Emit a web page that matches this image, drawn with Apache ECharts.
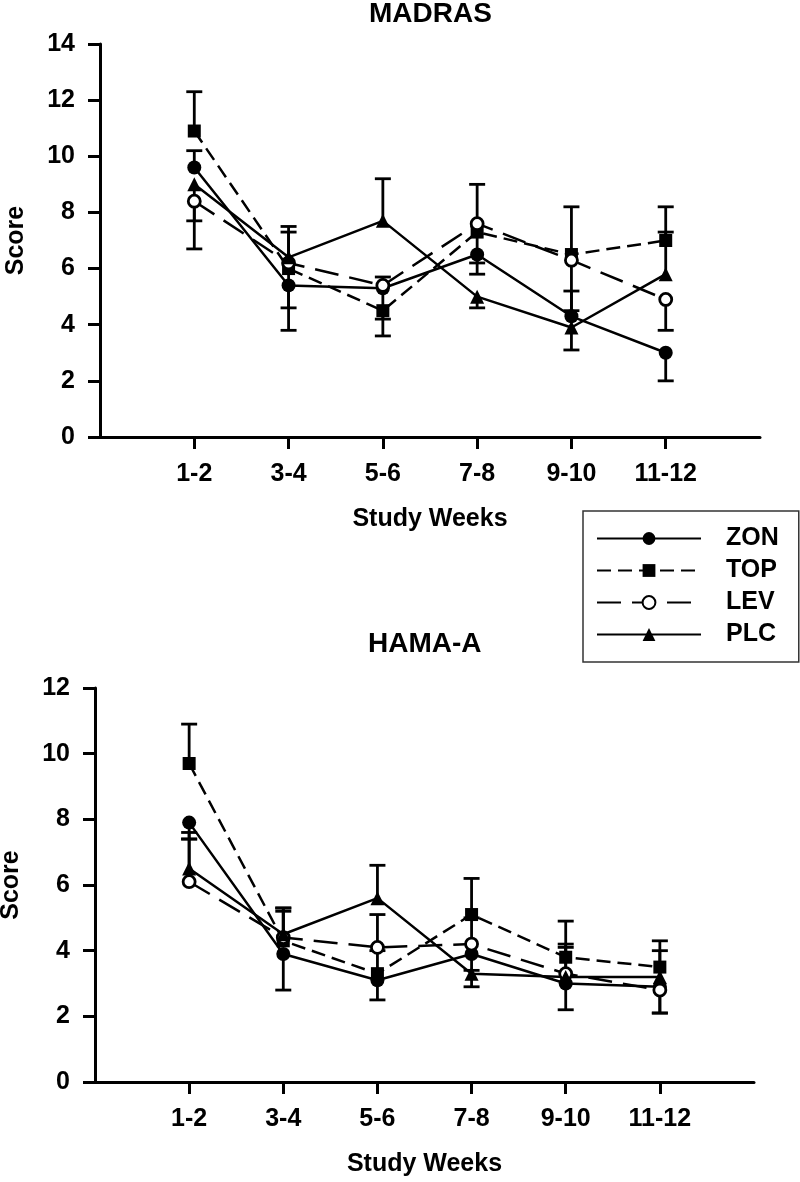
<!DOCTYPE html>
<html>
<head>
<meta charset="utf-8">
<script src="https://cdn.jsdelivr.net/npm/echarts@6/dist/echarts.min.js"></script>
<style>
html, body { margin: 0; padding: 0; background: #fff; }
#chart { width: 800px; height: 1182px; }
</style>
</head>
<body>
<div id="chart"></div>
<script>
'use strict';

var weeks = ['1-2', '3-4', '5-6', '7-8', '9-10', '11-12'];
var weekPos = [1, 2, 3, 4, 5, 6];

// MADRAS: group means and the end of each (one-sided) error bar
var madrasZon = [9.6, 5.4, 5.3, 6.5, 4.3, 3.0];
var madrasZonErr = [10.2, 3.8, 4.2, 5.8, 5.2, 2.0];
var madrasTop = [10.9, 6.0, 4.5, 7.3, 6.5, 7.0];
var madrasTopErr = [12.3, 4.6, 3.6, 6.2, 8.2, 8.2];
var madrasLev = [8.4, 6.2, 5.4, 7.6, 6.3, 4.9];
var madrasLevErr = [6.7, 7.3, 5.7, 9.0, 4.5, 3.8];
var madrasPlc = [9.0, 6.4, 7.7, 5.0, 3.9, 5.8];
var madrasPlcErr = [7.7, 7.5, 9.2, 4.6, 3.1, 7.3];

// HAMA-A
var hamaZon = [7.9, 3.9, 3.1, 3.9, 3.0, 2.9];
var hamaZonErr = [7.4, 2.8, 2.5, 3.4, 2.2, 2.1];
var hamaTop = [9.7, 4.3, 3.3, 5.1, 3.8, 3.5];
var hamaTopErr = [10.9, 5.3, 4.0, 6.2, 4.9, 4.3];
var hamaLev = [6.1, 4.4, 4.1, 4.2, 3.3, 2.8];
var hamaLevErr = [7.4, 5.3, 5.1, 5.0, 4.2, 2.1];
var hamaPlc = [6.5, 4.5, 5.6, 3.3, 3.2, 3.2];
var hamaPlcErr = [7.6, 5.2, 6.6, 2.9, 4.1, 4.0];

var FONT = '"Liberation Sans", Arial, sans-serif';

var groups = [
    {name: 'ZON', symbol: 'circle', size: 14, dash: 'solid', fill: '#000'},
    {name: 'TOP', symbol: 'rect', size: 13, dash: [14, 7], fill: '#000'},
    {name: 'LEV', symbol: 'circle', size: 12, dash: [24, 11], fill: '#fff'},
    {name: 'PLC', symbol: 'triangle', size: 14, dash: 'solid', fill: '#000'}
];

function pairs(values) {
    return values.map(function (v, i) { return [weekPos[i], v]; });
}

function errRows(means, ends) {
    return means.map(function (v, i) { return [weekPos[i], v, ends[i]]; });
}

function renderErr(params, api) {
    var x = api.value(0);
    var p1 = api.coord([x, api.value(1)]);
    var p2 = api.coord([x, api.value(2)]);
    var half = 8;
    var st = {stroke: '#000', lineWidth: 2.8};
    return {
        type: 'group',
        children: [
            {type: 'line', shape: {x1: p1[0], y1: p1[1], x2: p2[0], y2: p2[1]}, style: st},
            {type: 'line', shape: {x1: p2[0] - half, y1: p2[1], x2: p2[0] + half, y2: p2[1]}, style: st}
        ]
    };
}

function xAxisFor(idx) {
    return {
        type: 'value', gridIndex: idx, min: 0, max: 7, interval: 1,
        name: 'Study Weeks', nameLocation: 'middle', nameGap: 70,
        nameTextStyle: {fontSize: 25, fontWeight: 'bold', color: '#000', fontFamily: FONT},
        axisLine: {lineStyle: {color: '#000', width: 3}},
        axisTick: {customValues: weekPos, length: 12, lineStyle: {color: '#000', width: 3}},
        axisLabel: {
            customValues: weekPos, margin: 25,
            fontSize: 25, fontWeight: 'bold', color: '#000', fontFamily: FONT,
            formatter: function (v) { return weeks[v - 1]; }
        },
        splitLine: {show: false}
    };
}

function yAxisFor(idx, max) {
    return {
        type: 'value', gridIndex: idx, min: 0, max: max, interval: 2,
        name: 'Score', nameLocation: 'middle', nameGap: 71,
        nameTextStyle: {fontSize: 25, fontWeight: 'bold', color: '#000', fontFamily: FONT},
        axisLine: {show: true, lineStyle: {color: '#000', width: 3}},
        axisTick: {show: true, length: 12, lineStyle: {color: '#000', width: 3}},
        axisLabel: {margin: 25, fontSize: 25, fontWeight: 'bold', color: '#000', fontFamily: FONT},
        splitLine: {show: false}
    };
}

var panelData = [
    [madrasZon, madrasTop, madrasLev, madrasPlc],
    [hamaZon, hamaTop, hamaLev, hamaPlc]
];
var panelErr = [
    [madrasZonErr, madrasTopErr, madrasLevErr, madrasPlcErr],
    [hamaZonErr, hamaTopErr, hamaLevErr, hamaPlcErr]
];

var series_arr = [];
for (var p = 0; p < 2; p++) {
    var rows = [];
    for (var g = 0; g < groups.length; g++) {
        rows = rows.concat(errRows(panelData[p][g], panelErr[p][g]));
    }
    series_arr.push({
        type: 'custom',
        xAxisIndex: p, yAxisIndex: p,
        renderItem: renderErr,
        encode: {x: 0, y: [1, 2]},
        data: rows,
        z: 1,
        silent: true
    });
    for (var g = 0; g < groups.length; g++) {
        var grp = groups[g];
        series_arr.push({
            name: grp.name,
            type: 'line',
            xAxisIndex: p, yAxisIndex: p,
            data: pairs(panelData[p][g]),
            symbol: grp.symbol,
            symbolSize: grp.size,
            showAllSymbol: true,
            lineStyle: {color: '#000', width: 2.5, type: grp.dash},
            itemStyle: {color: grp.fill, borderColor: '#000', borderWidth: grp.fill === '#fff' ? 2.8 : 0},
            z: 3,
            silent: true
        });
    }
}

var my_chart = echarts.init(document.getElementById('chart'), null, {renderer: 'canvas'});
my_chart.setOption({
    animation: false,
    backgroundColor: '#fff',
    textStyle: {fontFamily: FONT},
    title: [
        {text: 'MADRAS', left: 369, top: 0, padding: 0,
            textStyle: {fontSize: 28, fontWeight: 'bold', color: '#000', fontFamily: FONT}},
        {text: 'HAMA-A', left: 368, top: 630, padding: 0,
            textStyle: {fontSize: 28, fontWeight: 'bold', color: '#000', fontFamily: FONT}}
    ],
    legend: {
        orient: 'vertical', left: 583, top: 511,
        data: ['ZON', 'TOP', 'LEV', 'PLC'],
        itemWidth: 104, itemHeight: 16, itemGap: 7,
        borderColor: '#333', borderWidth: 1.5,
        padding: [15, 20, 15, 13],
        selectedMode: false,
        textStyle: {fontSize: 25, fontWeight: 'bold', color: '#000', fontFamily: FONT, padding: [0, 0, 0, 20]}
    },
    grid: [
        {left: 100, top: 44, width: 660, height: 393, outerBoundsMode: 'none'},
        {left: 95, top: 688, width: 659, height: 394, outerBoundsMode: 'none'}
    ],
    xAxis: [xAxisFor(0), xAxisFor(1)],
    yAxis: [yAxisFor(0, 14), yAxisFor(1, 12)],
    series: series_arr
});
</script>
</body>
</html>
